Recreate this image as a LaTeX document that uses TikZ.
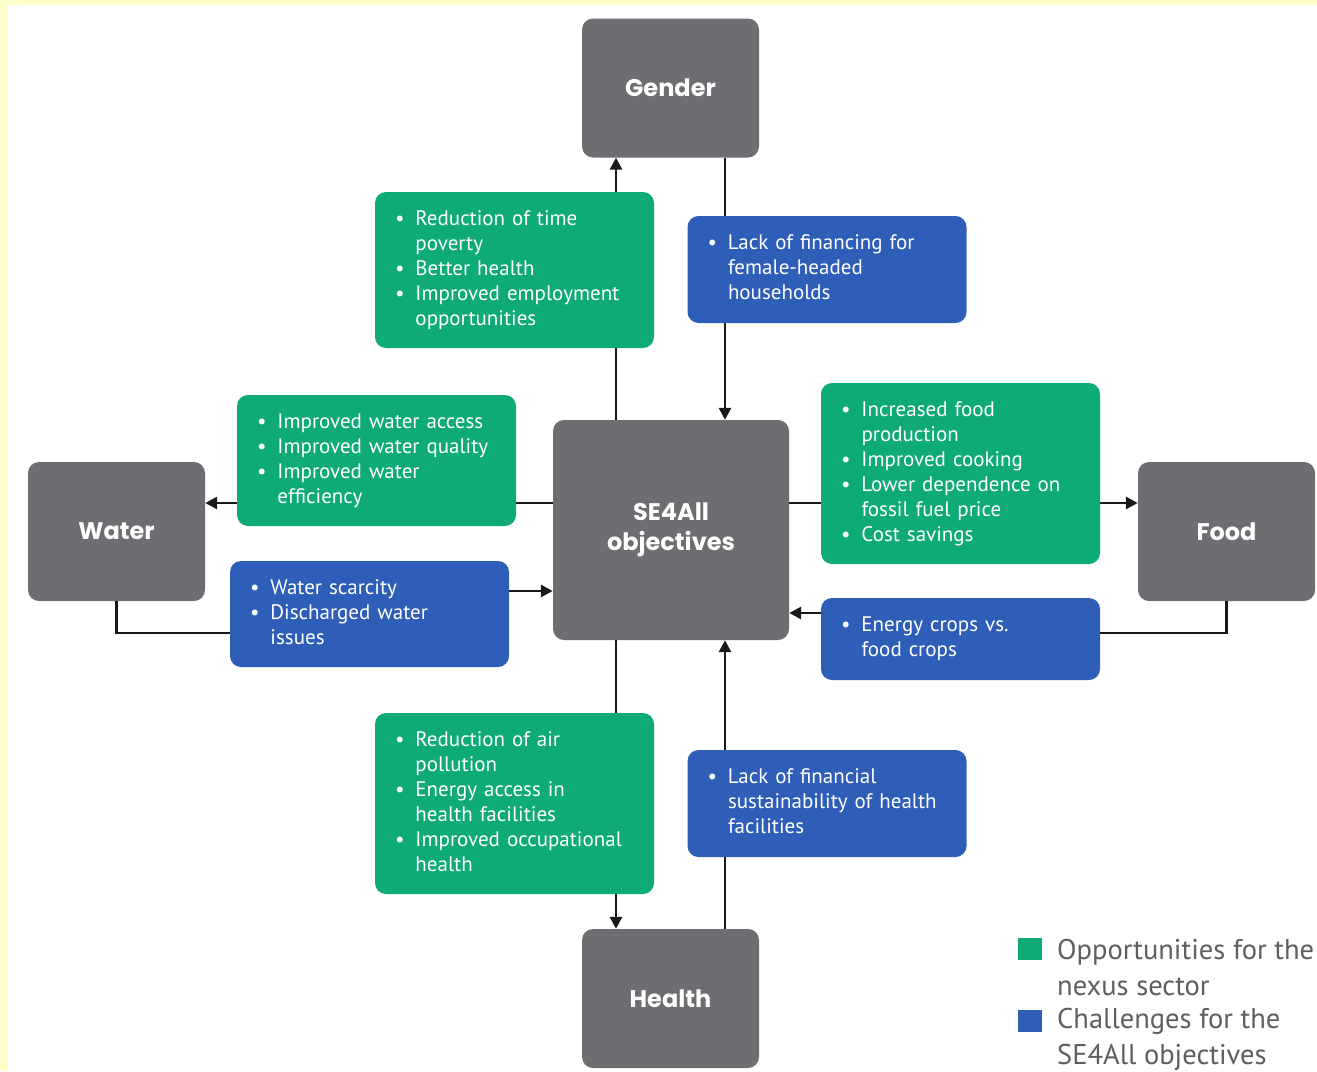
\documentclass[tikz,border=0pt]{standalone}
\usepackage{fontspec}
\setmainfont{PT Sans}
\newfontfamily\headfont{Poppins}
\usepackage{tikz}
\usetikzlibrary{arrows.meta,calc,positioning}

\definecolor{boxgray}{HTML}{6D6E71}
\definecolor{oppgreen}{HTML}{0EAA78}
\definecolor{chalblue}{HTML}{2F5EB8}
\definecolor{edgeyellow}{HTML}{FFFFCC}
\definecolor{legendgray}{HTML}{5E5F62}

\newcommand{\bu}{\textbullet}
\newcommand{\blist}[1]{\begin{tabular}{@{}l@{\hspace{11pt}}l@{}}#1\end{tabular}}

\begin{document}
\begin{tikzpicture}[
    x=1pt, y=-1pt,
    sector/.style={fill=boxgray, rounded corners=11pt, minimum width=177pt, minimum height=139pt,
        align=center, text=white, font=\headfont\bfseries\fontsize{24}{30}\selectfont},
    note/.style={rounded corners=11pt, minimum width=279pt, text width=239pt, inner xsep=20pt,
        align=left, text=white, font=\fontsize{21}{25}\selectfont},
    opp/.style={note, fill=oppgreen},
    chal/.style={note, fill=chalblue},
    arrow/.style={-{Triangle[length=12pt,width=12pt]}, line width=2.8pt, draw=black!90},
    key/.style={minimum width=24pt, minimum height=22pt, inner sep=0pt},
    keytext/.style={anchor=north west, inner sep=0pt, align=left, text=legendgray, font=\fontsize{28.5}{36}\selectfont}
]
    % Frame
    \fill[edgeyellow] (0,0) rectangle (1317,1071);
    \fill[white] (8,5) rectangle (1317,1071);
    \useasboundingbox (0,0) rectangle (1317,1071);

    % Sectors
    \node[sector] (Gender) at (670.5,88) {Gender};
    \node[sector, minimum width=236pt, minimum height=220pt] (SE4All) at (671,530) {SE4All\\objectives};
    \node[sector] (Water) at (116.5,531.5) {Water};
    \node[sector] (Food) at (1226.5,531.5) {Food};
    \node[sector] (Health) at (670.5,998.5) {Health};

    % Connectors
    \draw[arrow] (SE4All.north -| 616,0) -- (Gender.south -| 616,0);
    \draw[arrow] (Gender.south -| 725,0) -- (SE4All.north -| 725,0);
    \draw[arrow] (SE4All.west |- 0,503) -- (Water.east |- 0,503);
    \draw[arrow] (Water.south) |- (370,633) |- (SE4All.west |- 0,591);
    \draw[arrow] (SE4All.east |- 0,503) -- (Food.west |- 0,503);
    \draw[arrow] (Food.south) |- (1000,633) |- (SE4All.east |- 0,613);
    \draw[arrow] (SE4All.south -| 616,0) -- (Health.north -| 616,0);
    \draw[arrow] (Health.north -| 725,0) -- (SE4All.south -| 725,0);

    % Opportunities and challenges
    \node[opp, minimum height=156pt] (GenderOpp) at (514.5,270) {\blist{\bu & Reduction of time\\ & poverty\\ \bu & Better health\\ \bu & Improved employment\\ & opportunities}};
    \node[chal, minimum height=107pt] (GenderChal) at (827,269.5) {\blist{\bu & Lack of financing for\\ & female-headed\\ & households}};
    \node[opp, minimum height=131pt] (WaterOpp) at (376.5,460.5) {\blist{\bu & Improved water access\\ \bu & Improved water quality\\ \bu & Improved water\\ & efficiency}};
    \node[chal, minimum height=106pt] (WaterChal) at (369.5,614) {\blist{\bu & Water scarcity\\ \bu & Discharged water\\ & issues}};
    \node[opp, minimum height=181pt] (FoodOpp) at (960.5,473.5) {\blist{\bu & Increased food\\ & production\\ \bu & Improved cooking\\ \bu & Lower dependence on\\ & fossil fuel price\\ \bu & Cost savings}};
    \node[chal, minimum height=82pt] (FoodChal) at (960.5,639) {\blist{\bu & Energy crops vs.\\ & food crops}};
    \node[opp, minimum height=181pt] (HealthOpp) at (514.5,803.5) {\blist{\bu & Reduction of air\\ & pollution\\ \bu & Energy access in\\ & health facilities\\ \bu & Improved occupational\\ & health}};
    \node[chal, minimum height=107pt] (HealthChal) at (827,803.5) {\blist{\bu & Lack of financial\\ & sustainability of health\\ & facilities}};

    % Legend
    \node[key, fill=oppgreen] (OppKey) at (1030,949) {};
    \node[key, fill=chalblue] (ChalKey) at (1030,1020.5) {};
    \node[keytext] (OppText) at (1057,939) {Opportunities for the\\nexus sector};
    \node[keytext] (ChalText) at (1057,1008) {Challenges for the\\SE4All objectives};
\end{tikzpicture}
\end{document}
